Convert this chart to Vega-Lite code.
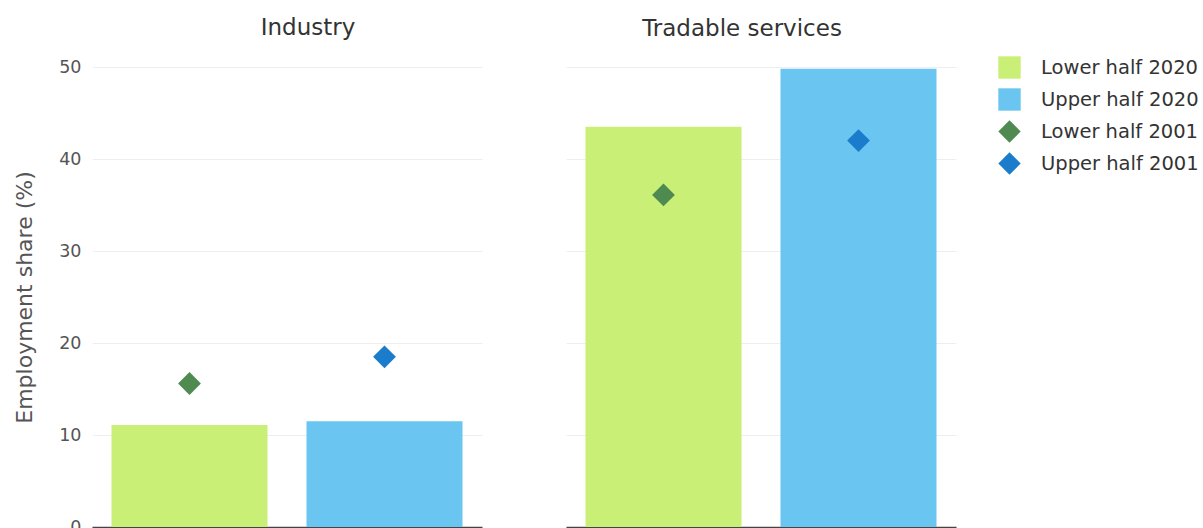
{
  "$schema": "https://vega.github.io/schema/vega-lite/v6.json",
  "padding": {"top": 17, "left": 13, "right": 0, "bottom": 0},
  "background": "white",
  "config": {
    "font": "DejaVu Sans",
    "view": {"stroke": null},
    "title": {"fontSize": 23, "fontWeight": "normal", "color": "#333333", "offset": 26},
    "axis": {"labelFont": "DejaVu Sans", "titleFont": "DejaVu Sans"},
    "legend": {"labelFont": "DejaVu Sans"}
  },
  "data": {"values": [
    {"sector": "Industry", "half": "Lower half", "year": 2020, "series": "Lower half 2020", "value": 11.1},
    {"sector": "Industry", "half": "Upper half", "year": 2020, "series": "Upper half 2020", "value": 11.5},
    {"sector": "Industry", "half": "Lower half", "year": 2001, "series": "Lower half 2001", "value": 15.6},
    {"sector": "Industry", "half": "Upper half", "year": 2001, "series": "Upper half 2001", "value": 18.5},
    {"sector": "Tradable services", "half": "Lower half", "year": 2020, "series": "Lower half 2020", "value": 43.5},
    {"sector": "Tradable services", "half": "Upper half", "year": 2020, "series": "Upper half 2020", "value": 49.8},
    {"sector": "Tradable services", "half": "Lower half", "year": 2001, "series": "Lower half 2001", "value": 36.1},
    {"sector": "Tradable services", "half": "Upper half", "year": 2001, "series": "Upper half 2001", "value": 42.0}
  ]},
  "spacing": 84,
  "resolve": {"scale": {"color": "shared", "shape": "shared"}, "legend": {"color": "shared", "shape": "shared"}},
  "hconcat": [
    {
      "width": 390,
      "height": 460,
      "title": {"text": "Industry", "dx": 21, "dy": 8},
      "transform": [{"filter": "datum.sector === 'Industry'"}],
      "encoding": {
        "x": {"field": "half", "type": "nominal", "scale": {"paddingInner": 0.2, "paddingOuter": 0.1},
              "axis": {"labels": false, "ticks": false, "title": null, "domainColor": "#444444", "domainWidth": 1.5}},
        "y": {"field": "value", "type": "quantitative", "scale": {"domain": [0, 50], "nice": false},
              "axis": {"title": "Employment share (%)", "titleFontSize": 22, "titleFontWeight": "normal", "titleColor": "#555555", "titlePadding": 22,
                       "labelFontSize": 17.5, "labelColor": "#555555", "labelPadding": 11, "ticks": false, "domain": false,
                       "values": [0, 10, 20, 30, 40, 50], "gridColor": "#eeeeee", "gridWidth": 1}}
      },
      "layer": [
        {"transform": [{"filter": "datum.year === 2020"}],
         "mark": {"type": "bar"},
         "encoding": {"color": {"field": "series", "type": "nominal", "title": null,
           "scale": {"domain": ["Lower half 2020", "Upper half 2020", "Lower half 2001", "Upper half 2001"], "range": ["#c9ef77", "#6ac5f1", "#4f8a50", "#1b7ccc"]},
           "legend": {"orient": "none", "legendX": 906, "legendY": -11, "labelFontSize": 19.5, "labelLimit": 400, "labelColor": "#333333", "labelOffset": 20, "rowPadding": 9, "symbolSize": 500, "symbolStrokeWidth": 0, "symbolOpacity": 1}}}},
        {"transform": [{"filter": "datum.year === 2001"}],
         "mark": {"type": "point", "filled": true, "opacity": 1, "size": 520},
         "encoding": {
           "color": {"field": "series", "type": "nominal", "title": null},
           "shape": {"field": "series", "type": "nominal", "title": null,
             "scale": {"domain": ["Lower half 2020", "Upper half 2020", "Lower half 2001", "Upper half 2001"], "range": ["square", "square", "diamond", "diamond"]}}}}
      ]
    },
    {
      "width": 390,
      "height": 460,
      "title": {"text": "Tradable services", "dx": -19},
      "transform": [{"filter": "datum.sector === 'Tradable services'"}],
      "encoding": {
        "x": {"field": "half", "type": "nominal", "scale": {"paddingInner": 0.2, "paddingOuter": 0.1},
              "axis": {"labels": false, "ticks": false, "title": null, "domainColor": "#444444", "domainWidth": 1.5}},
        "y": {"field": "value", "type": "quantitative", "scale": {"domain": [0, 50], "nice": false},
              "axis": {"title": null, "labels": false, "ticks": false, "domain": false,
                       "values": [0, 10, 20, 30, 40, 50], "gridColor": "#eeeeee", "gridWidth": 1}}
      },
      "layer": [
        {"transform": [{"filter": "datum.year === 2020"}],
         "mark": {"type": "bar"},
         "encoding": {"color": {"field": "series", "type": "nominal", "title": null}}},
        {"transform": [{"filter": "datum.year === 2001"}],
         "mark": {"type": "point", "filled": true, "opacity": 1, "size": 520},
         "encoding": {
           "color": {"field": "series", "type": "nominal", "title": null},
           "shape": {"field": "series", "type": "nominal", "title": null}}}
      ],
      "resolve": {"scale": {"y": "independent"}}
    }
  ]
}
